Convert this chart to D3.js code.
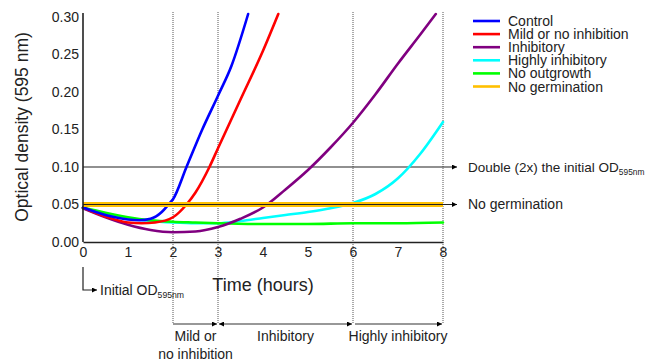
<!DOCTYPE html>
<html><head><meta charset="utf-8">
<script src="https://cdn.jsdelivr.net/npm/d3@7"></script>
<style>body{margin:0;background:#fff}svg{font-family:"Liberation Sans",Arial,sans-serif}</style>
</head><body><svg id="c" width="650" height="362"></svg>
<script>
const xTicks = [0,1,2,3,4,5,6,7,8];
const yTicks = [0,0.05,0.10,0.15,0.20,0.25,0.30];
const seriesNames = ["Control","Mild or no inhibition","Inhibitory","Highly inhibitory","No outgrowth","No germination"];
const seriesColors = ["#0000ff","#ff0000","#800080","#00ffff","#00ff00","#ffc000"];
const controlT  = [0,0.5,1,1.25,1.5,1.75,1.9,2.0,2.3,2.65,3.0,3.3,3.67];
const controlOD = [0.046,0.036,0.030,0.029,0.031,0.040,0.050,0.057,0.10,0.15,0.195,0.235,0.304];
const mildT  = [0,0.5,1,1.3,1.6,2.0,2.3,2.5,2.81,3.0,3.5,4.0,4.34];
const mildOD = [0.046,0.034,0.026,0.025,0.026,0.033,0.050,0.066,0.10,0.125,0.19,0.255,0.304];
const inhibT  = [0,0.5,1,1.5,2,2.5,3,3.5,4,4.5,5,5.5,6,6.5,7,7.5,7.84];
const inhibOD = [0.045,0.033,0.023,0.016,0.013,0.014,0.020,0.031,0.046,0.070,0.096,0.126,0.159,0.197,0.238,0.277,0.304];
const highT  = [0,0.5,1,1.5,2,2.5,3,3.5,4,4.5,5,5.5,6,6.5,7,7.5,8];
const highOD = [0.045,0.038,0.032,0.028,0.026,0.025,0.025,0.028,0.032,0.036,0.040,0.045,0.052,0.064,0.085,0.118,0.160];
const noOutT  = [0,0.5,1,1.5,2,2.5,3,4,5,6,7,8];
const noOutOD = [0.046,0.039,0.033,0.029,0.027,0.026,0.025,0.024,0.024,0.025,0.025,0.026];
const noGermT  = [0,8];
const noGermOD = [0.05,0.05];
const doubleOD = 0.10;
const phaseBounds = [2,3,6,8];
const phaseLabels = [["Mild or","no inhibition"],["Inhibitory"],["Highly inhibitory"]];

const svg = d3.select("#c");
const x = d3.scaleLinear().domain([0,8]).range([83,443]);
const y = d3.scaleLinear().domain([0,0.30]).range([242,17]);

const defs = svg.append("defs");
defs.append("marker").attr("id","ah").attr("viewBox","0 0 10 10").attr("refX",10).attr("refY",5)
  .attr("markerWidth",5).attr("markerHeight",5).attr("orient","auto-start-reverse")
  .attr("markerUnits","userSpaceOnUse")
  .append("path").attr("d","M0,0L10,5L0,10Z").attr("fill","#000");

// vertical dotted lines
phaseBounds.forEach(t=>{
  svg.append("line").attr("x1",x(t)).attr("x2",x(t)).attr("y1",12).attr("y2",324)
    .attr("stroke","#555").attr("stroke-width",1).attr("stroke-dasharray","1,1");
});

// bracket arrows
const by = 324;
svg.append("line").attr("x1",x(2)).attr("x2",x(3)-1).attr("y1",by).attr("y2",by)
  .attr("stroke","#333").attr("stroke-width",1.2).attr("marker-end","url(#ah)");
svg.append("line").attr("x1",x(3)+1).attr("x2",x(6)-1).attr("y1",by).attr("y2",by)
  .attr("stroke","#333").attr("stroke-width",1.2).attr("marker-start","url(#ah)").attr("marker-end","url(#ah)");
svg.append("line").attr("x1",x(6)+2).attr("x2",x(8)-1).attr("y1",by).attr("y2",by)
  .attr("stroke","#333").attr("stroke-width",1.2).attr("marker-end","url(#ah)");
phaseLabels.forEach((lines,i)=>{
  const cx = (x(phaseBounds[i])+x(phaseBounds[i+1]))/2;
  lines.forEach((s,j)=>{
    svg.append("text").attr("x",cx).attr("y",341+j*18).attr("text-anchor","middle")
      .attr("font-size",14).attr("fill","#222").text(s);
  });
});

// reference lines
svg.append("line").attr("x1",x(0)).attr("x2",457).attr("y1",y(doubleOD)).attr("y2",y(doubleOD))
  .attr("stroke","#222").attr("stroke-width",1.2).attr("marker-end","url(#ah)");

const line = d3.line().x(d=>x(d[0])).y(d=>y(d[1])).curve(d3.curveMonotoneX);
const series = [
  [controlT,controlOD],[mildT,mildOD],[inhibT,inhibOD],[highT,highOD],[noOutT,noOutOD]
];
const drawOrder = [3,4,2,1,0];
drawOrder.forEach(i=>{
  const pts = series[i][0].map((t,k)=>[t,series[i][1][k]]);
  svg.append("path").attr("d",line(pts)).attr("fill","none")
    .attr("stroke",seriesColors[i]).attr("stroke-width",2.6).attr("stroke-linecap","round");
});
// no germination
svg.append("line").attr("x1",x(noGermT[0])).attr("x2",x(noGermT[1])).attr("y1",y(noGermOD[0])).attr("y2",y(noGermOD[1]))
  .attr("stroke",seriesColors[5]).attr("stroke-width",5);
svg.append("line").attr("x1",x(0)).attr("x2",457).attr("y1",y(noGermOD[0])).attr("y2",y(noGermOD[0]))
  .attr("stroke","#222").attr("stroke-width",1.2).attr("marker-end","url(#ah)");

// axes
const ya = d3.axisLeft(y).tickValues(yTicks).tickSize(0).tickPadding(4).tickFormat(d3.format(".2f"));
const gy = svg.append("g").attr("transform",`translate(${x(0)},0)`).call(ya);
gy.select(".domain").attr("d",`M0,13V${y(0)}`).attr("stroke","#222").attr("stroke-width",1.6);
gy.selectAll("text").attr("font-size",14).attr("fill","#222").attr("font-family","Liberation Sans, Arial, sans-serif");
const xa = d3.axisBottom(x).tickValues(xTicks).tickSize(0).tickPadding(5).tickFormat(d3.format("d"));
const gx = svg.append("g").attr("transform",`translate(0,${y(0)})`).call(xa);
gx.select(".domain").attr("stroke","#222").attr("stroke-width",1.6);
gx.selectAll("text").attr("font-size",14).attr("fill","#222").attr("font-family","Liberation Sans, Arial, sans-serif");

// titles
svg.append("text").attr("transform","translate(28,127) rotate(-90)").attr("text-anchor","middle")
  .attr("font-size",17.5).attr("fill","#222").text("Optical density (595 nm)");
svg.append("text").attr("x",263).attr("y",291).attr("text-anchor","middle")
  .attr("font-size",18).attr("fill","#222").text("Time (hours)");

// annotations
function sub(xx, yy, main, subs, fs){
  const tx = svg.append("text").attr("x",xx).attr("y",yy).attr("font-size",fs).attr("fill","#222");
  tx.append("tspan").text(main);
  tx.append("tspan").attr("font-size",fs*0.62).attr("dy",3).text(subs);
}
sub(468,172,"Double (2x) the initial OD","595nm",13.5);
svg.append("text").attr("x",468).attr("y",209).attr("font-size",14).attr("fill","#222").text("No germination");

svg.append("path").attr("d",`M${x(0)},267V290H97`).attr("fill","none").attr("stroke","#222")
  .attr("stroke-width",1.2).attr("marker-end","url(#ah)");
sub(100,295,"Initial OD","595nm",14);

// legend
seriesNames.forEach((n,i)=>{
  const ly = 21+i*13.1;
  svg.append("line").attr("x1",473).attr("x2",500).attr("y1",ly).attr("y2",ly)
    .attr("stroke",seriesColors[i]).attr("stroke-width",2.6);
  svg.append("text").attr("x",508).attr("y",ly+5).attr("font-size",14).attr("fill","#222").text(n);
});
</script></body></html>
